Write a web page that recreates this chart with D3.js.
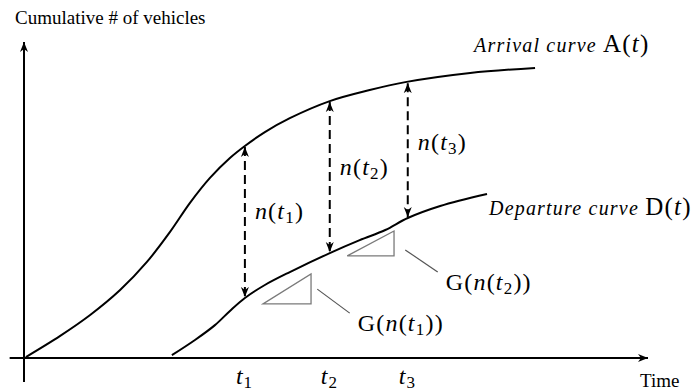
<!DOCTYPE html>
<html>
<head>
<meta charset="utf-8">
<script src="https://cdn.jsdelivr.net/npm/d3@7"></script>
<style>
  body { margin: 0; background: #fff; }
  svg { display: block; }
  text { font-family: "Liberation Serif", "Times New Roman", serif; fill: #000; }
</style>
</head>
<body>
<div id="chart"></div>
<script>
// ---------------------------------------------------------------------------
// Datos (unidades arbitrarias 0-100 en ambos ejes)
// ---------------------------------------------------------------------------
const arrivalX = [0.3, 5.8, 10.6, 15.4, 19.7, 23.4, 26.6, 29.8, 33.0, 35.4, 38.6, 42.6, 49.0, 55.4, 61.1, 71.5, 81.9];
const arrivalY = [0.3, 7.0, 13.6, 21.5, 30.4, 39.9, 49.1, 57.0, 63.3, 67.1, 71.5, 75.9, 81.3, 84.8, 87.3, 90.2, 91.8];

const departureX = [23.7, 27.4, 30.6, 33.0, 35.4, 38.6, 42.6, 49.0, 53.8, 57.9, 61.5, 66.7, 74.2];
const departureY = [0.9, 5.7, 10.4, 14.9, 19.0, 23.1, 27.2, 33.2, 37.3, 40.5, 44.3, 48.1, 51.9];

// instantes t1, t2, t3 y valores de las curvas en ellos
const tValues = [35.4, 49.0, 61.5];
const tSubs = ['1', '2', '3'];
const arrivalAtT = [67.1, 81.3, 87.3];
const departureAtT = [19.0, 33.2, 44.3];

// triángulos de pendiente G(n(t))
const triX0 = [38.3, 51.8];
const triX1 = [46.0, 59.3];
const triY0 = [17.1, 32.3];
const triY1 = [26.6, 40.2];
const triSubs = ['1', '2'];

// líneas guía de las etiquetas G(n(t))
const leaderX0 = [47.0, 61.1];
const leaderY0 = [21.8, 34.2];
const leaderX1 = [52.2, 66.3];
const leaderY1 = [14.2, 27.2];

// ---------------------------------------------------------------------------
const W = 695, H = 392;

const svg = d3.select('#chart').append('svg')
    .attr('width', W).attr('height', H);

const x = d3.scaleLinear().domain([0, 100]).range([24, 648]);
const y = d3.scaleLinear().domain([0, 100]).range([358, 42]);

// Marcador de flecha
const defs = svg.append('defs');
defs.append('marker')
    .attr('id', 'head')
    .attr('viewBox', '0 0 10 10')
    .attr('refX', 10).attr('refY', 5)
    .attr('markerWidth', 10).attr('markerHeight', 10)
    .attr('markerUnits', 'userSpaceOnUse')
    .attr('orient', 'auto-start-reverse')
    .append('path')
    .attr('d', 'M0,1 L10,5 L0,9 L3,5 Z')
    .attr('fill', '#000');

// Ejes
svg.append('line')
    .attr('x1', x(-2.3)).attr('x2', x(100))
    .attr('y1', y(0)).attr('y2', y(0))
    .attr('stroke', '#000').attr('stroke-width', 2)
    .attr('marker-end', 'url(#head)');

svg.append('line')
    .attr('x1', x(0)).attr('x2', x(0))
    .attr('y1', y(-7.6)).attr('y2', y(100))
    .attr('stroke', '#000').attr('stroke-width', 2)
    .attr('marker-end', 'url(#head)');

svg.append('text')
    .attr('x', 15).attr('y', 24)
    .attr('font-size', '19px')
    .text('Cumulative # of vehicles');

svg.append('text')
    .attr('x', 640).attr('y', 387)
    .attr('font-size', '19px')
    .text('Time');

// helper: t con subíndice
function addT(sel, sub) {
    sel.append('tspan').attr('font-style', 'italic').text('t');
    sel.append('tspan').attr('font-size', '17px').attr('dy', 4).text(sub);
}

// Etiquetas t1, t2, t3
const tTick = svg.append('g').selectAll('text')
    .data(tValues)
    .join('text')
    .attr('x', (d) => x(d) - 9)
    .attr('y', 384)
    .attr('font-size', '24px')
    .attr('letter-spacing', '1px');
addT(tTick, (d, i) => tSubs[i]);

// Curvas
const line = d3.line()
    .x((d) => x(d[0]))
    .y((d) => y(d[1]))
    .curve(d3.curveCatmullRom.alpha(0.5));

svg.append('path')
    .attr('d', line(d3.zip(arrivalX, arrivalY)))
    .attr('fill', 'none').attr('stroke', '#000').attr('stroke-width', 2);

svg.append('path')
    .attr('d', line(d3.zip(departureX, departureY)))
    .attr('fill', 'none').attr('stroke', '#000').attr('stroke-width', 2);

// Flechas discontinuas n(t)
svg.append('g').selectAll('line')
    .data(tValues)
    .join('line')
    .attr('x1', (d) => x(d)).attr('x2', (d) => x(d))
    .attr('y1', (d, i) => y(arrivalAtT[i]) + 1)
    .attr('y2', (d, i) => y(departureAtT[i]) - 1)
    .attr('stroke', '#000').attr('stroke-width', 2)
    .attr('stroke-dasharray', '9,5')
    .attr('marker-start', 'url(#head)')
    .attr('marker-end', 'url(#head)');

const nLabel = svg.append('g').selectAll('text')
    .data(tValues)
    .join('text')
    .attr('x', (d) => x(d) + 10)
    .attr('y', (d, i) => [219, 175, 150][i])
    .attr('font-size', '24px')
    .attr('letter-spacing', '1.2px');
nLabel.append('tspan').attr('font-style', 'italic').text('n');
nLabel.append('tspan').text('(');
addT(nLabel, (d, i) => tSubs[i]);
nLabel.append('tspan').attr('dy', -4).text(')');

// Triángulos de pendiente
svg.append('g').selectAll('path')
    .data(triX0)
    .join('path')
    .attr('d', (d, i) => `M${x(triX0[i])},${y(triY0[i])}L${x(triX1[i])},${y(triY0[i])}L${x(triX1[i])},${y(triY1[i])}Z`)
    .attr('fill', 'none').attr('stroke', '#7a7a7a').attr('stroke-width', 1.3);

svg.append('g').selectAll('line')
    .data(leaderX0)
    .join('line')
    .attr('x1', (d) => x(d)).attr('y1', (d, i) => y(leaderY0[i]))
    .attr('x2', (d, i) => x(leaderX1[i])).attr('y2', (d, i) => y(leaderY1[i]))
    .attr('stroke', '#555').attr('stroke-width', 1.2);

const gLabel = svg.append('g').selectAll('text')
    .data(leaderX1)
    .join('text')
    .attr('x', (d) => x(d) + 8)
    .attr('y', (d, i) => y(leaderY1[i]) + 18)
    .attr('font-size', '24px')
    .attr('letter-spacing', '1.2px');
gLabel.append('tspan').text('G(');
gLabel.append('tspan').attr('font-style', 'italic').text('n');
gLabel.append('tspan').text('(');
addT(gLabel, (d, i) => triSubs[i]);
gLabel.append('tspan').attr('dy', -4).text('))');

// Etiquetas de las curvas
function curveLabel(px, py, words, letter) {
    const t = svg.append('text').attr('x', px).attr('y', py);
    t.append('tspan').attr('font-style', 'italic').attr('font-size', '20px')
        .attr('letter-spacing', '1.2px').text(words + ' ');
    const m = t.append('tspan').attr('font-size', '25px').attr('letter-spacing', '1.2px');
    m.text(letter + '(');
    t.append('tspan').attr('font-size', '25px').attr('font-style', 'italic').attr('letter-spacing', '1.2px').text('t');
    t.append('tspan').attr('font-size', '25px').text(')');
}
curveLabel(474, 52, 'Arrival curve', 'A');
curveLabel(489, 215, 'Departure curve', 'D');
</script>
</body>
</html>
